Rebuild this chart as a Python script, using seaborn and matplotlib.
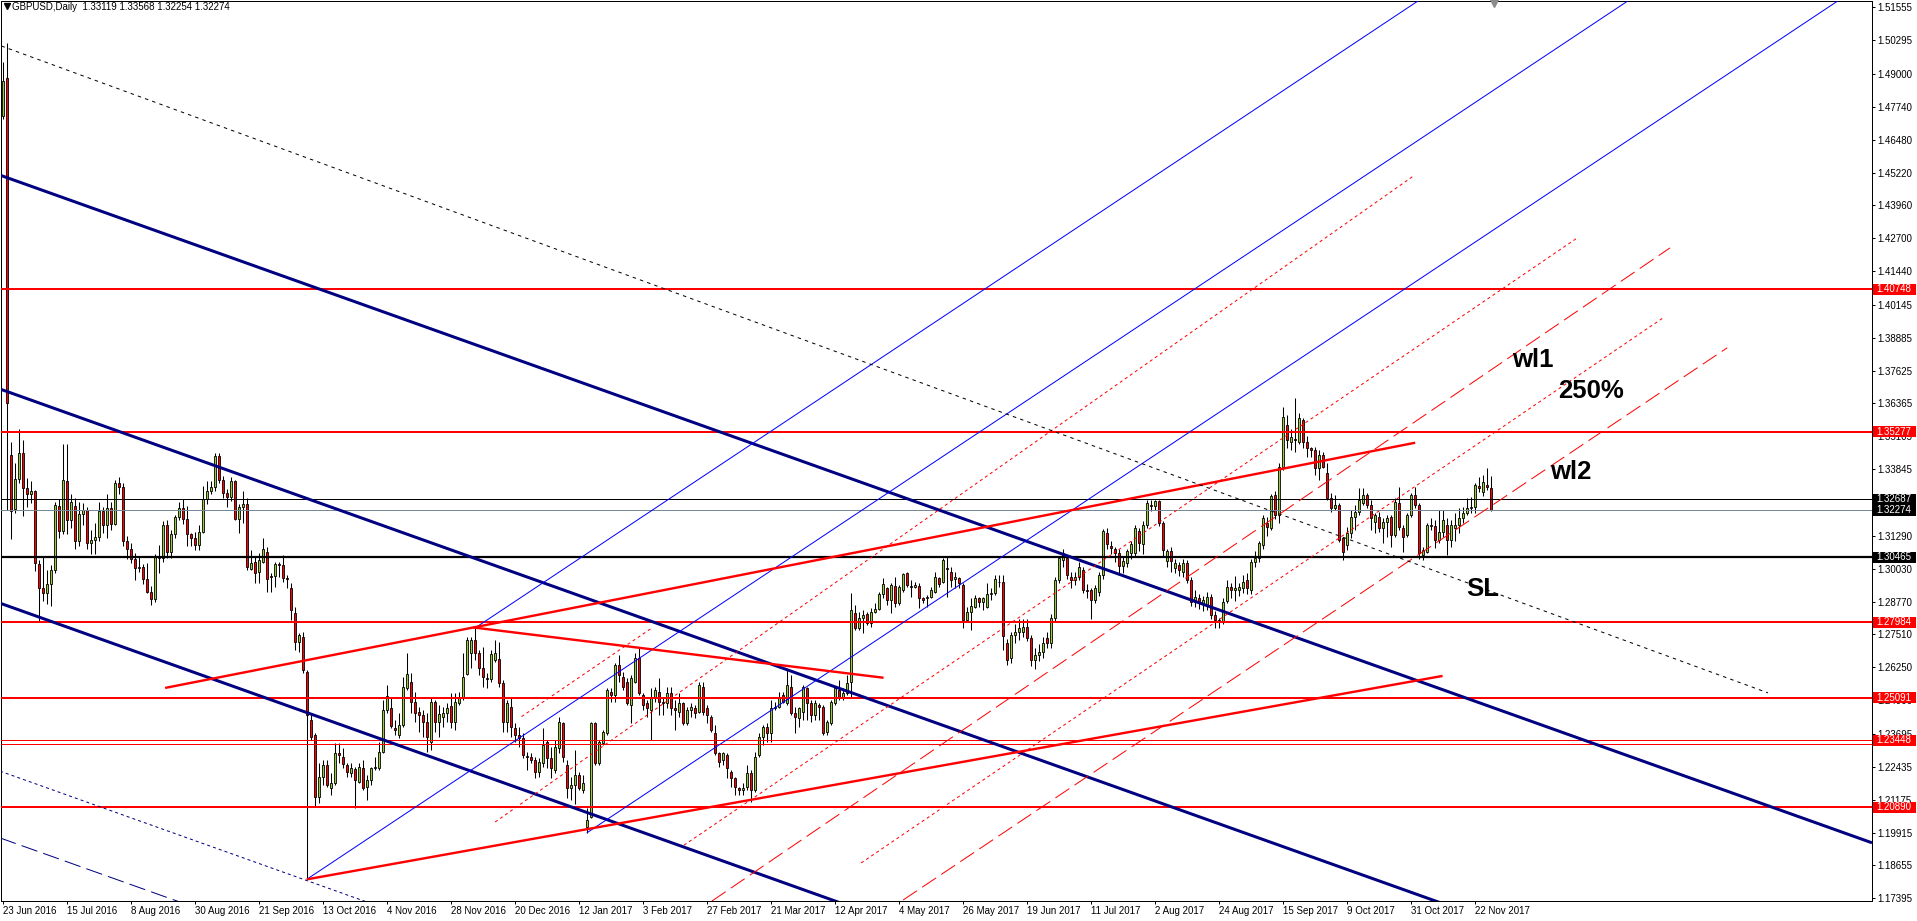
import numpy as np
import pandas as pd
import matplotlib
matplotlib.use("Agg")
import matplotlib.pyplot as plt
import seaborn as sns
from matplotlib.patches import Rectangle
from matplotlib.lines import Line2D

# ---------------- data ----------------
opens = [
 1.4740, 1.4885, 1.3440, 1.3232, 1.3348, 1.3447, 1.3313, 1.3288, 1.3300, 1.3020,
 1.2931, 1.2910, 1.2945, 1.2997, 1.3243, 1.3146, 1.3340, 1.3188, 1.3243, 1.3111,
 1.3213, 1.3229, 1.3102, 1.3115, 1.3125, 1.3224, 1.3170, 1.3234, 1.3175, 1.3333,
 1.3315, 1.3111, 1.3077, 1.3040, 1.3004, 1.3010, 1.2963, 1.2914, 1.2888, 1.3048,
 1.3045, 1.3170, 1.3067, 1.3136, 1.3202, 1.3234, 1.3195, 1.3136, 1.3120, 1.3095,
 1.3145, 1.3270, 1.3302, 1.3315, 1.3435, 1.3345, 1.3295, 1.3278, 1.3340, 1.3195,
 1.3240, 1.3250, 1.3001, 1.3030, 1.2992, 1.3030, 1.3068, 1.2975, 1.2975, 1.3021,
 1.3017, 1.2966, 1.2928, 1.2832, 1.2723, 1.2743, 1.2608, 1.2423, 1.2366, 1.2129,
 1.2206, 1.2251, 1.2161, 1.2180, 1.2295, 1.2282, 1.2251, 1.2221, 1.2234, 1.2187,
 1.2240, 1.2167, 1.2193, 1.2238, 1.2238, 1.2302, 1.2461, 1.2468, 1.2391, 1.2366,
 1.2404, 1.2545, 1.2567, 1.2493, 1.2455, 1.2442, 1.2417, 1.2340, 1.2491, 1.2417,
 1.2433, 1.2448, 1.2478, 1.2414, 1.2487, 1.2506, 1.2600, 1.2680, 1.2730, 1.2679,
 1.2621, 1.2583, 1.2579, 1.2653, 1.2656, 1.2564, 1.2417, 1.2474, 1.2391, 1.2366,
 1.2353, 1.2286, 1.2283, 1.2270, 1.2225, 1.2257, 1.2340, 1.2276, 1.2231, 1.2314,
 1.2410, 1.2250, 1.2161, 1.2174, 1.2212, 1.2155, 1.2014, 1.2052, 1.2410, 1.2257,
 1.2334, 1.2372, 1.2532, 1.2519, 1.2634, 1.2589, 1.2570, 1.2481, 1.2570, 1.2660,
 1.2519, 1.2487, 1.2461, 1.2513, 1.2532, 1.2493, 1.2487, 1.2525, 1.2468, 1.2455,
 1.2487, 1.2410, 1.2461, 1.2468, 1.2455, 1.2551, 1.2468, 1.2436, 1.2372, 1.2295,
 1.2270, 1.2289, 1.2225, 1.2200, 1.2161, 1.2155, 1.2168, 1.2219, 1.2155, 1.2289,
 1.2359, 1.2397, 1.2372, 1.2468, 1.2474, 1.2519, 1.2487, 1.2551, 1.2448, 1.2429,
 1.2455, 1.2545, 1.2487, 1.2442, 1.2481, 1.2474, 1.2378, 1.2410, 1.2487, 1.2538,
 1.2506, 1.2525, 1.2570, 1.2834, 1.2775, 1.2815, 1.2829, 1.2794, 1.2838, 1.2847,
 1.2906, 1.2928, 1.2883, 1.2937, 1.2870, 1.2921, 1.2985, 1.2937, 1.2934, 1.2937,
 1.2890, 1.2890, 1.2896, 1.2915, 1.2966, 1.2954, 1.3005, 1.2992, 1.2963, 1.2969,
 1.2941, 1.2806, 1.2838, 1.2858, 1.2890, 1.2877, 1.2858, 1.2906, 1.2909, 1.2954,
 1.2951, 1.2717, 1.2660, 1.2749, 1.2762, 1.2762, 1.2781, 1.2736, 1.2653, 1.2672,
 1.2685, 1.2736, 1.2717, 1.2813, 1.2960, 1.3037, 1.3043, 1.2973, 1.2960, 1.2973,
 1.2998, 1.2923, 1.2923, 1.2883, 1.2915, 1.2979, 1.3141, 1.3089, 1.3077, 1.3064,
 1.3013, 1.3026, 1.3064, 1.3064, 1.3147, 1.3096, 1.3172, 1.3249, 1.3242, 1.3261,
 1.3178, 1.3032, 1.3070, 1.3004, 1.3017, 1.2992, 1.3024, 1.2960, 1.2877, 1.2890,
 1.2870, 1.2864, 1.2896, 1.2826, 1.2807, 1.2800, 1.2880, 1.2934, 1.2922, 1.2922,
 1.2928, 1.2960, 1.2922, 1.3030, 1.3043, 1.3094, 1.3180, 1.3158, 1.3286, 1.3209,
 1.3394, 1.3554, 1.3490, 1.3500, 1.3490, 1.3573, 1.3490, 1.3465, 1.3458, 1.3388,
 1.3439, 1.3369, 1.3273, 1.3234, 1.3247, 1.3120, 1.3094, 1.3139, 1.3203, 1.3222,
 1.3254, 1.3286, 1.3247, 1.3183, 1.3203, 1.3158, 1.3183, 1.3203, 1.3132, 1.3254,
 1.3158, 1.3132, 1.3209, 1.3286, 1.3247, 1.3056, 1.3068, 1.3171, 1.3165, 1.3113,
 1.3145, 1.3171, 1.3113, 1.3158, 1.3171, 1.3196, 1.3215, 1.3234, 1.3241, 1.3320,
 1.3298, 1.3324, 1.3312,
]

highs = [
 1.4946, 1.5018, 1.3487, 1.3410, 1.3539, 1.3498, 1.3350, 1.3340, 1.3305, 1.3035,
 1.3047, 1.2998, 1.3019, 1.3260, 1.3270, 1.3481, 1.3483, 1.3290, 1.3275, 1.3260,
 1.3255, 1.3240, 1.3150, 1.3180, 1.3260, 1.3240, 1.3290, 1.3260, 1.3343, 1.3355,
 1.3330, 1.3130, 1.3100, 1.3062, 1.3050, 1.3020, 1.3025, 1.2935, 1.3060, 1.3095,
 1.3185, 1.3190, 1.3150, 1.3210, 1.3260, 1.3270, 1.3245, 1.3140, 1.3145, 1.3170,
 1.3320, 1.3338, 1.3340, 1.3445, 1.3445, 1.3360, 1.3310, 1.3355, 1.3345, 1.3250,
 1.3300, 1.3275, 1.3075, 1.3049, 1.3062, 1.3120, 1.3088, 1.2985, 1.3030, 1.3030,
 1.3056, 1.2979, 1.2947, 1.2858, 1.2755, 1.2762, 1.2615, 1.2448, 1.2372, 1.2257,
 1.2270, 1.2270, 1.2219, 1.2334, 1.2334, 1.2314, 1.2257, 1.2257, 1.2244, 1.2257,
 1.2270, 1.2212, 1.2244, 1.2282, 1.2340, 1.2500, 1.2557, 1.2506, 1.2423, 1.2448,
 1.2589, 1.2679, 1.2602, 1.2532, 1.2474, 1.2461, 1.2448, 1.2506, 1.2500, 1.2480,
 1.2474, 1.2487, 1.2525, 1.2525, 1.2532, 1.2679, 1.2743, 1.2743, 1.2775, 1.2691,
 1.2704, 1.2602, 1.2691, 1.2730, 1.2723, 1.2576, 1.2500, 1.2506, 1.2410, 1.2397,
 1.2372, 1.2302, 1.2295, 1.2282, 1.2276, 1.2391, 1.2346, 1.2321, 1.2346, 1.2436,
 1.2417, 1.2270, 1.2206, 1.2308, 1.2225, 1.2212, 1.2085, 1.2417, 1.2417, 1.2346,
 1.2385, 1.2545, 1.2545, 1.2640, 1.2672, 1.2608, 1.2583, 1.2596, 1.2679, 1.2704,
 1.2525, 1.2500, 1.2545, 1.2551, 1.2583, 1.2513, 1.2551, 1.2551, 1.2500, 1.2525,
 1.2493, 1.2474, 1.2487, 1.2481, 1.2570, 1.2570, 1.2481, 1.2442, 1.2404, 1.2302,
 1.2302, 1.2295, 1.2231, 1.2206, 1.2168, 1.2180, 1.2250, 1.2231, 1.2302, 1.2372,
 1.2404, 1.2410, 1.2500, 1.2493, 1.2532, 1.2532, 1.2615, 1.2596, 1.2474, 1.2474,
 1.2557, 1.2551, 1.2500, 1.2500, 1.2487, 1.2481, 1.2423, 1.2500, 1.2551, 1.2577,
 1.2545, 1.2596, 1.2909, 1.2865, 1.2838, 1.2845, 1.2838, 1.2851, 1.2870, 1.2915,
 1.2966, 1.2934, 1.2947, 1.2973, 1.2941, 1.2985, 1.2992, 1.2960, 1.2953, 1.2947,
 1.2896, 1.2902, 1.2934, 1.2992, 1.2973, 1.3043, 1.3049, 1.3011, 1.2992, 1.2973,
 1.2947, 1.2858, 1.2890, 1.2902, 1.2896, 1.2896, 1.2947, 1.2928, 1.2979, 1.2979,
 1.2980, 1.2735, 1.2760, 1.2790, 1.2810, 1.2810, 1.2810, 1.2750, 1.2700, 1.2715,
 1.2740, 1.2760, 1.2830, 1.2970, 1.3050, 1.3080, 1.3050, 1.2990, 1.2990, 1.3030,
 1.3010, 1.2945, 1.2930, 1.2940, 1.2990, 1.3155, 1.3160, 1.3110, 1.3085, 1.3080,
 1.3050, 1.3080, 1.3110, 1.3170, 1.3160, 1.3185, 1.3265, 1.3268, 1.3268, 1.3268,
 1.3185, 1.3080, 1.3085, 1.3040, 1.3030, 1.3040, 1.3035, 1.2970, 1.2920, 1.2905,
 1.2900, 1.2915, 1.2905, 1.2840, 1.2815, 1.2890, 1.2960, 1.2950, 1.2975, 1.2950,
 1.2980, 1.2985, 1.3040, 1.3070, 1.3110, 1.3210, 1.3200, 1.3290, 1.3300, 1.3410,
 1.3624, 1.3592, 1.3540, 1.3656, 1.3600, 1.3580, 1.3510, 1.3470, 1.3470, 1.3458,
 1.3452, 1.3407, 1.3292, 1.3286, 1.3254, 1.3126, 1.3164, 1.3228, 1.3247, 1.3311,
 1.3311, 1.3292, 1.3266, 1.3215, 1.3222, 1.3196, 1.3209, 1.3209, 1.3273, 1.3318,
 1.3171, 1.3215, 1.3292, 1.3318, 1.3254, 1.3088, 1.3177, 1.3196, 1.3190, 1.3228,
 1.3228, 1.3196, 1.3190, 1.3215, 1.3235, 1.3241, 1.3273, 1.3279, 1.3330, 1.3356,
 1.3362, 1.3388, 1.3357,
]

lows = [
 1.4726, 1.3229, 1.3117, 1.3217, 1.3330, 1.3206, 1.3240, 1.3255, 1.2996, 1.2800,
 1.2880, 1.2866, 1.2860, 1.2985, 1.3120, 1.3135, 1.3136, 1.3160, 1.3080, 1.3090,
 1.3170, 1.3080, 1.3060, 1.3060, 1.3110, 1.3140, 1.3120, 1.3150, 1.3170, 1.3290,
 1.3090, 1.3040, 1.3025, 1.2960, 1.2990, 1.2945, 1.2910, 1.2865, 1.2875, 1.2985,
 1.3030, 1.3045, 1.3045, 1.3120, 1.3190, 1.3175, 1.3090, 1.3090, 1.3075, 1.3075,
 1.3140, 1.3253, 1.3290, 1.3300, 1.3330, 1.3275, 1.3240, 1.3262, 1.3190, 1.3140,
 1.3180, 1.3000, 1.2998, 1.2947, 1.2947, 1.3024, 1.2915, 1.2915, 1.2934, 1.2973,
 1.2953, 1.2928, 1.2806, 1.2691, 1.2685, 1.2602, 1.1812, 1.2346, 1.2091, 1.2103,
 1.2174, 1.2167, 1.2136, 1.2174, 1.2257, 1.2238, 1.2206, 1.2206, 1.2084, 1.2180,
 1.2155, 1.2116, 1.2174, 1.2231, 1.2231, 1.2295, 1.2448, 1.2391, 1.2366, 1.2353,
 1.2398, 1.2538, 1.2448, 1.2417, 1.2378, 1.2359, 1.2302, 1.2308, 1.2378, 1.2359,
 1.2398, 1.2417, 1.2391, 1.2385, 1.2481, 1.2500, 1.2595, 1.2621, 1.2653, 1.2595,
 1.2551, 1.2545, 1.2570, 1.2646, 1.2551, 1.2378, 1.2378, 1.2359, 1.2340, 1.2321,
 1.2276, 1.2231, 1.2257, 1.2200, 1.2206, 1.2244, 1.2238, 1.2200, 1.2219, 1.2295,
 1.2263, 1.2123, 1.2116, 1.2100, 1.2155, 1.2142, 1.1988, 1.2046, 1.2250, 1.2250,
 1.2327, 1.2366, 1.2493, 1.2493, 1.2570, 1.2538, 1.2481, 1.2410, 1.2564, 1.2519,
 1.2461, 1.2436, 1.2346, 1.2493, 1.2442, 1.2442, 1.2468, 1.2442, 1.2385, 1.2436,
 1.2404, 1.2404, 1.2436, 1.2429, 1.2448, 1.2442, 1.2410, 1.2378, 1.2289, 1.2244,
 1.2250, 1.2200, 1.2168, 1.2136, 1.2136, 1.2136, 1.2155, 1.2110, 1.2148, 1.2283,
 1.2327, 1.2340, 1.2340, 1.2461, 1.2468, 1.2487, 1.2481, 1.2442, 1.2372, 1.2397,
 1.2423, 1.2423, 1.2417, 1.2423, 1.2423, 1.2366, 1.2366, 1.2404, 1.2481, 1.2500,
 1.2500, 1.2519, 1.2512, 1.2768, 1.2768, 1.2755, 1.2787, 1.2781, 1.2832, 1.2845,
 1.2890, 1.2864, 1.2832, 1.2858, 1.2864, 1.2915, 1.2934, 1.2896, 1.2928, 1.2851,
 1.2870, 1.2858, 1.2890, 1.2909, 1.2934, 1.2947, 1.2896, 1.2934, 1.2928, 1.2928,
 1.2774, 1.2800, 1.2768, 1.2851, 1.2858, 1.2845, 1.2851, 1.2883, 1.2902, 1.2934,
 1.2690, 1.2635, 1.2640, 1.2720, 1.2730, 1.2740, 1.2725, 1.2630, 1.2620, 1.2650,
 1.2660, 1.2700, 1.2700, 1.2800, 1.2950, 1.3010, 1.2965, 1.2930, 1.2940, 1.2960,
 1.2910, 1.2890, 1.2810, 1.2870, 1.2900, 1.2965, 1.3080, 1.3060, 1.3030, 1.2980,
 1.2985, 1.3010, 1.3040, 1.3050, 1.3070, 1.3060, 1.3160, 1.3225, 1.3230, 1.3165,
 1.3050, 1.3010, 1.2990, 1.2985, 1.2975, 1.2970, 1.2950, 1.2860, 1.2855, 1.2850,
 1.2840, 1.2845, 1.2810, 1.2775, 1.2775, 1.2790, 1.2870, 1.2890, 1.2880, 1.2900,
 1.2910, 1.2905, 1.2905, 1.3010, 1.3030, 1.3080, 1.3130, 1.3150, 1.3195, 1.3180,
 1.3380, 1.3465, 1.3460, 1.3452, 1.3480, 1.3465, 1.3432, 1.3430, 1.3362, 1.3343,
 1.3388, 1.3266, 1.3222, 1.3228, 1.3107, 1.3036, 1.3075, 1.3120, 1.3152, 1.3209,
 1.3247, 1.3235, 1.3152, 1.3139, 1.3145, 1.3100, 1.3126, 1.3088, 1.3126, 1.3152,
 1.3068, 1.3126, 1.3203, 1.3235, 1.3040, 1.3036, 1.3062, 1.3152, 1.3081, 1.3100,
 1.3126, 1.3056, 1.3088, 1.3110, 1.3139, 1.3177, 1.3209, 1.3215, 1.3215, 1.3298,
 1.3280, 1.3305, 1.3225,
]

closes = [
 1.4872, 1.3640, 1.3223, 1.3348, 1.3447, 1.3313, 1.3288, 1.3300, 1.3026, 1.2931,
 1.2910, 1.2945, 1.2997, 1.3246, 1.3146, 1.3342, 1.3188, 1.3257, 1.3111, 1.3213,
 1.3229, 1.3102, 1.3115, 1.3125, 1.3224, 1.3170, 1.3234, 1.3175, 1.3333, 1.3315,
 1.3111, 1.3077, 1.3040, 1.3004, 1.3010, 1.2963, 1.2914, 1.2888, 1.3048, 1.3045,
 1.3170, 1.3067, 1.3136, 1.3202, 1.3234, 1.3195, 1.3136, 1.3120, 1.3095, 1.3145,
 1.3270, 1.3302, 1.3315, 1.3435, 1.3345, 1.3295, 1.3278, 1.3340, 1.3195, 1.3240,
 1.3250, 1.3011, 1.3026, 1.2985, 1.3036, 1.3077, 1.2962, 1.2970, 1.3021, 1.3016,
 1.2966, 1.2962, 1.2845, 1.2723, 1.2749, 1.2615, 1.2442, 1.2359, 1.2129, 1.2206,
 1.2251, 1.2174, 1.2180, 1.2295, 1.2289, 1.2254, 1.2225, 1.2238, 1.2193, 1.2244,
 1.2161, 1.2193, 1.2238, 1.2244, 1.2302, 1.2461, 1.2515, 1.2400, 1.2385, 1.2404,
 1.2551, 1.2599, 1.2493, 1.2448, 1.2442, 1.2417, 1.2359, 1.2493, 1.2417, 1.2445,
 1.2448, 1.2468, 1.2417, 1.2491, 1.2509, 1.2589, 1.2730, 1.2730, 1.2679, 1.2621,
 1.2589, 1.2579, 1.2675, 1.2679, 1.2564, 1.2417, 1.2487, 1.2397, 1.2366, 1.2353,
 1.2289, 1.2282, 1.2270, 1.2225, 1.2263, 1.2327, 1.2276, 1.2238, 1.2321, 1.2417,
 1.2283, 1.2161, 1.2174, 1.2212, 1.2161, 1.2180, 1.2040, 1.2410, 1.2257, 1.2340,
 1.2378, 1.2538, 1.2519, 1.2634, 1.2596, 1.2551, 1.2487, 1.2583, 1.2660, 1.2525,
 1.2481, 1.2468, 1.2506, 1.2538, 1.2493, 1.2487, 1.2525, 1.2468, 1.2462, 1.2487,
 1.2410, 1.2461, 1.2474, 1.2448, 1.2557, 1.2455, 1.2442, 1.2385, 1.2295, 1.2263,
 1.2295, 1.2238, 1.2200, 1.2168, 1.2155, 1.2161, 1.2219, 1.2155, 1.2283, 1.2359,
 1.2397, 1.2372, 1.2468, 1.2474, 1.2513, 1.2493, 1.2557, 1.2448, 1.2436, 1.2468,
 1.2551, 1.2487, 1.2442, 1.2487, 1.2474, 1.2372, 1.2417, 1.2493, 1.2545, 1.2506,
 1.2525, 1.2564, 1.2845, 1.2775, 1.2813, 1.2824, 1.2794, 1.2838, 1.2847, 1.2906,
 1.2944, 1.2883, 1.2941, 1.2870, 1.2934, 1.2983, 1.2941, 1.2934, 1.2941, 1.2890,
 1.2883, 1.2896, 1.2922, 1.2973, 1.2944, 1.3036, 1.3001, 1.2960, 1.2973, 1.2947,
 1.2806, 1.2838, 1.2860, 1.2890, 1.2877, 1.2890, 1.2906, 1.2909, 1.2962, 1.2951,
 1.2745, 1.2653, 1.2749, 1.2762, 1.2775, 1.2781, 1.2736, 1.2653, 1.2672, 1.2685,
 1.2717, 1.2717, 1.2813, 1.2960, 1.3043, 1.3062, 1.2979, 1.2960, 1.2973, 1.3011,
 1.2923, 1.2917, 1.2883, 1.2928, 1.2979, 1.3147, 1.3096, 1.3083, 1.3064, 1.3013,
 1.3032, 1.3070, 1.3096, 1.3160, 1.3102, 1.3172, 1.3255, 1.3242, 1.3261, 1.3178,
 1.3076, 1.3070, 1.3032, 1.3024, 1.2998, 1.3024, 1.2960, 1.2877, 1.2896, 1.2870,
 1.2883, 1.2896, 1.2826, 1.2807, 1.2800, 1.2877, 1.2934, 1.2922, 1.2928, 1.2934,
 1.2953, 1.2928, 1.3030, 1.3043, 1.3100, 1.3196, 1.3162, 1.3282, 1.3209, 1.3394,
 1.3586, 1.3496, 1.3509, 1.3497, 1.3580, 1.3490, 1.3465, 1.3460, 1.3388, 1.3439,
 1.3394, 1.3273, 1.3234, 1.3247, 1.3113, 1.3068, 1.3139, 1.3203, 1.3222, 1.3266,
 1.3286, 1.3247, 1.3196, 1.3209, 1.3158, 1.3183, 1.3196, 1.3132, 1.3260, 1.3164,
 1.3126, 1.3209, 1.3286, 1.3247, 1.3062, 1.3075, 1.3171, 1.3168, 1.3113, 1.3145,
 1.3190, 1.3113, 1.3171, 1.3171, 1.3196, 1.3215, 1.3234, 1.3241, 1.3324, 1.3311,
 1.3337, 1.3318, 1.3227,
]

date_labels = ["23 Jun 2016", "15 Jul 2016", "8 Aug 2016", "30 Aug 2016", "21 Sep 2016",
               "13 Oct 2016", "4 Nov 2016", "28 Nov 2016", "20 Dec 2016", "12 Jan 2017",
               "3 Feb 2017", "27 Feb 2017", "21 Mar 2017", "12 Apr 2017", "4 May 2017",
               "26 May 2017", "19 Jun 2017", "11 Jul 2017", "2 Aug 2017", "24 Aug 2017",
               "15 Sep 2017", "9 Oct 2017", "31 Oct 2017", "22 Nov 2017"]
bars_per_label = 16

price_ticks = [1.51555, 1.50295, 1.49000, 1.47740, 1.46480, 1.45220, 1.43960, 1.42700,
               1.41440, 1.40145, 1.38885, 1.37625, 1.36365, 1.35105, 1.33845, 1.32585,
               1.31290, 1.30030, 1.28770, 1.27510, 1.26250, 1.24990, 1.23695, 1.22435,
               1.21175, 1.19915, 1.18655, 1.17395]

red_levels = [1.40748, 1.35277, 1.27984, 1.25091, 1.20890]
red_thin_levels = [1.23448, 1.23320]
black_level_thin = 1.32687
bid_level = 1.32274
black_level_thick = 1.30465

red_label_levels = [1.40748, 1.35277, 1.27984, 1.25091, 1.23448, 1.20890]
black_label_levels = [1.32687, 1.32274, 1.30465]

title_text = "GBPUSD,Daily  1.33119 1.33568 1.32254 1.32274"

# trend lines: (bar0, price0, bar1, price1)
navy_channel = [(-0.675, 1.4512, 467.3, 1.19522),
                (-0.675, 1.3692, 467.3, 1.11322),
                (-0.675, 1.2871, 467.3, 1.03112)]
navy_dotted = [(-0.675, 1.2227, 467.3, 0.96672)]
navy_dashed = [(-0.675, 1.1971, 467.3, 0.94112)]
blue_lines = [(118.0, 1.2775, 360.0, 1.5243),
              (76.0, 1.1812, 410.0, 1.5218),
              (146.0, 1.1990, 462.0, 1.5213)]
red_trend = [(76.0, 1.1812, 359.95, 1.2592),
             (40.6, 1.2546, 353.1, 1.3486),
             (117.6, 1.2778, 220.2, 1.2585)]
red_dotted = [(123.1, 1.2032, 352.6, 1.4508),
              (129.7, 1.2436, 162.2, 1.2775),
              (170.3, 1.1943, 393.6, 1.4271),
              (214.6, 1.1875, 415.1, 1.3965)]
red_dashed = [(177.3, 1.1729, 416.8, 1.4233),
              (225.1, 1.1733, 431.1, 1.3850)]
black_dotted = [(-0.3, 1.5007, 441.3, 1.2527)]

annotations = [("wl1", 377.25, 1.37775), ("250%", 388.9, 1.36563),
               ("wl2", 386.8, 1.33463), ("SL", 365.8, 1.29000)]
shift_marker_bar = 372.8

# ---------------- style ----------------
sns.set_theme(style="white")
plt.rcParams["font.family"] = ["Liberation Sans", "DejaVu Sans"]
plt.rcParams["lines.scale_dashes"] = False
plt.rcParams["axes.edgecolor"] = "black"

W, H = 1917, 921
fig = plt.figure(figsize=(W / 100, H / 100), dpi=100)
fig.patch.set_facecolor("white")
ax = fig.add_axes([1 / W, 20 / H, 1871 / W, 900 / H])
ax.set_facecolor("white")

n = min(len(opens), len(highs), len(lows), len(closes))
df = pd.DataFrame({"bar": np.arange(n), "open": opens[:n], "high": highs[:n],
                   "low": lows[:n], "close": closes[:n]})
up = (df["close"] >= df["open"]).values
bottom = np.minimum(df["open"], df["close"]).values
height = np.maximum((df["close"] - df["open"]).abs().values, 0.00003)

ax.vlines(df["bar"], df["low"], df["high"], color="black", linewidth=0.75, zorder=2)
ax.bar(df["bar"][up], height[up], bottom=bottom[up], width=0.55, color="#9ACD32",
       edgecolor="black", linewidth=0.6, zorder=3)
ax.bar(df["bar"][~up], height[~up], bottom=bottom[~up], width=0.55, color="#FF0000",
       edgecolor="black", linewidth=0.6, zorder=3)

px = 0.72  # one pixel in points


def draw(lines, color, lw, dashes=None, z=4):
    for x0, y0, x1, y1 in lines:
        ln, = ax.plot([x0, x1], [y0, y1], color=color, linewidth=lw, zorder=z,
                      solid_capstyle="butt", dash_capstyle="butt")
        if dashes is not None:
            ln.set_dashes(dashes)


# horizontal levels
for v in red_levels:
    ax.axhline(v, color="#FF0000", linewidth=2 * px, zorder=4)
for v in red_thin_levels:
    ax.axhline(v, color="#FF0000", linewidth=1 * px, zorder=4)
ax.axhline(black_level_thin, color="black", linewidth=1 * px, zorder=4)
ax.axhline(bid_level, color="#778899", linewidth=1 * px, zorder=4)
ax.axhline(black_level_thick, color="black", linewidth=2.2 * px, zorder=4)

draw(navy_channel, "#000080", 3 * px)
draw(navy_dotted, "#000080", 1 * px, dashes=(2.2, 2.2))
draw(navy_dashed, "#000080", 1 * px, dashes=(12, 4.5))
draw(blue_lines, "#0000FF", 1 * px)
draw(red_trend, "#FF0000", 2.4 * px)
draw(red_dotted, "#FF0000", 1 * px, dashes=(2.2, 2.2))
draw(red_dashed, "#FF0000", 1 * px, dashes=(12, 4.5))
draw(black_dotted, "black", 1 * px, dashes=(2.5, 3))

for txt, xb, yp in annotations:
    ax.text(xb, yp, txt, fontsize=18.5, fontweight="bold", color="black",
            ha="left", va="baseline", zorder=6, family=["Liberation Sans", "DejaVu Sans"])

ax.set_xlim(-0.425, 467.3)
ax.set_ylim(1.17291, 1.51796)

# x axis (dates)
ax.set_xticks([i * bars_per_label for i in range(len(date_labels))])
ax.set_xticklabels(date_labels, ha="left", fontsize=7, color="black")
ax.tick_params(axis="x", direction="out", length=3 * px, width=1 * px, pad=1.2,
               colors="black", bottom=True)

# y axis (right)
ax.yaxis.tick_right()
ax.set_yticks(price_ticks)
ax.set_yticklabels([f"{t:.5f}" for t in price_ticks], fontsize=7, color="black")
ax.tick_params(axis="y", direction="out", length=3 * px, width=1 * px, pad=1.5,
               colors="black", right=True, left=False)

for s in ax.spines.values():
    s.set_linewidth(1 * px)
    s.set_color("black")

# price label boxes on the right axis
ytr = ax.get_yaxis_transform()
box_h = 11 / 2608.3
box_x0 = (1873 - 1) / 1871
box_w = 43 / 1871
text_x = (1876.5 - 1) / 1871
for levels, col in ((red_label_levels, "#FF0000"), (black_label_levels, "black")):
    for v in levels:
        ax.add_patch(Rectangle((box_x0, v - box_h / 2), box_w, box_h, transform=ytr,
                               facecolor=col, edgecolor="none", clip_on=False, zorder=5))
        ax.text(text_x, v, f"{v:.5f}", transform=ytr, color="white", fontsize=7,
                ha="left", va="center", clip_on=False, zorder=6)

# chart shift marker at the top
ax.plot([shift_marker_bar], [1.51796], marker="v", markersize=8, color="#8C8C8C",
        clip_on=False, zorder=6, linestyle="none")

# title with small triangle
fig.add_artist(Line2D([6.5 / W], [1 - 6.5 / H], marker="v", markersize=4, color="black",
                      linestyle="none", transform=fig.transFigure))
fig.text(12 / W, 1 - 7 / H, title_text, fontsize=7, color="black", ha="left", va="center")

ax.grid(False)
fig.savefig("out.png", dpi=100, facecolor="white")
